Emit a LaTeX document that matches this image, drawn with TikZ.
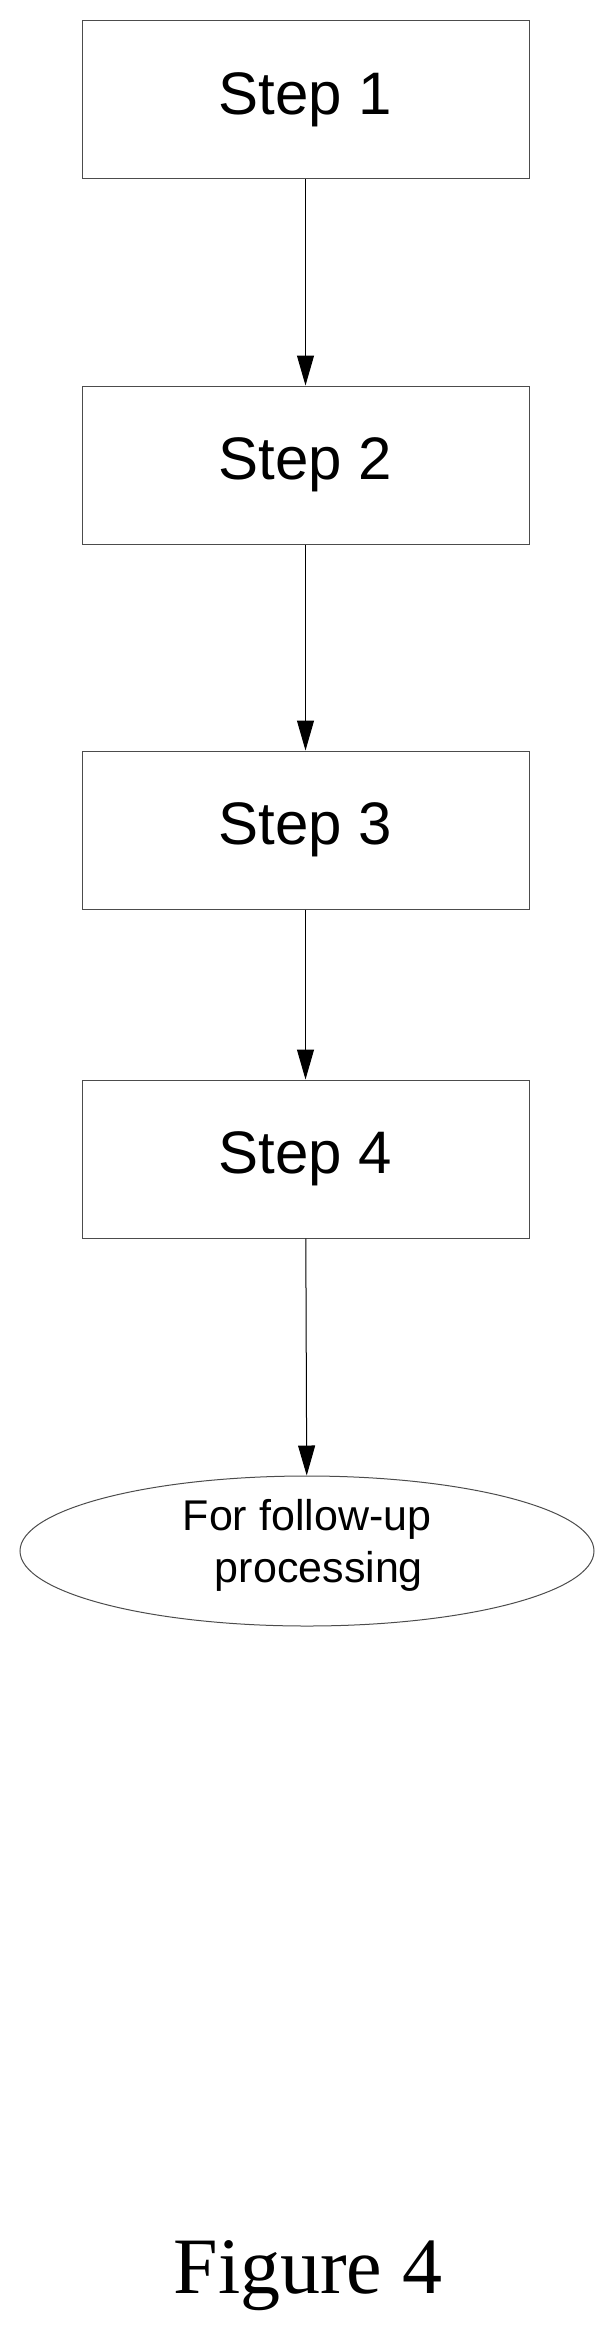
\documentclass[tikz,border=0pt]{standalone}
\usepackage{fontspec}
\setmainfont{Liberation Sans}
\newfontfamily\capfont{Liberation Serif}
\usetikzlibrary{shapes.geometric,arrows.meta}
\begin{document}
\begin{tikzpicture}[x=1pt,y=-1pt,
  box/.style={draw=black!70,line width=1pt,minimum width=447pt,minimum height=158pt,font=\fontsize{60}{70}\selectfont,inner sep=0pt},
  arr/.style={draw,line width=1pt,-{Triangle[length=30pt,width=17pt]}}]
\useasboundingbox (0,0) rectangle (610,2341);
\node[box] (s1) at (305.5,100) {Step 1};
\node[box] (s2) at (305.5,465) {Step 2};
\node[box] (s3) at (305.5,830) {Step 3};
\node[box] (s4) at (305.5,1159) {Step 4};
\node[ellipse,draw=black!70,line width=1pt,minimum width=574pt,minimum height=150pt,inner sep=0pt] (e) at (307,1551) {};
\node[align=center,font=\fontsize{43}{52}\selectfont] (et) at (307,1545) {For follow-up\\ \ \ processing};
\draw[arr] (s1) -- (s2);
\draw[arr] (s2) -- (s3);
\draw[arr] (s3) -- (s4);
\draw[arr] (s4) -- (e);
\node[font=\capfont\fontsize{80}{94}\selectfont] (cap) at (308,2276) {Figure 4};
\end{tikzpicture}
\end{document}
